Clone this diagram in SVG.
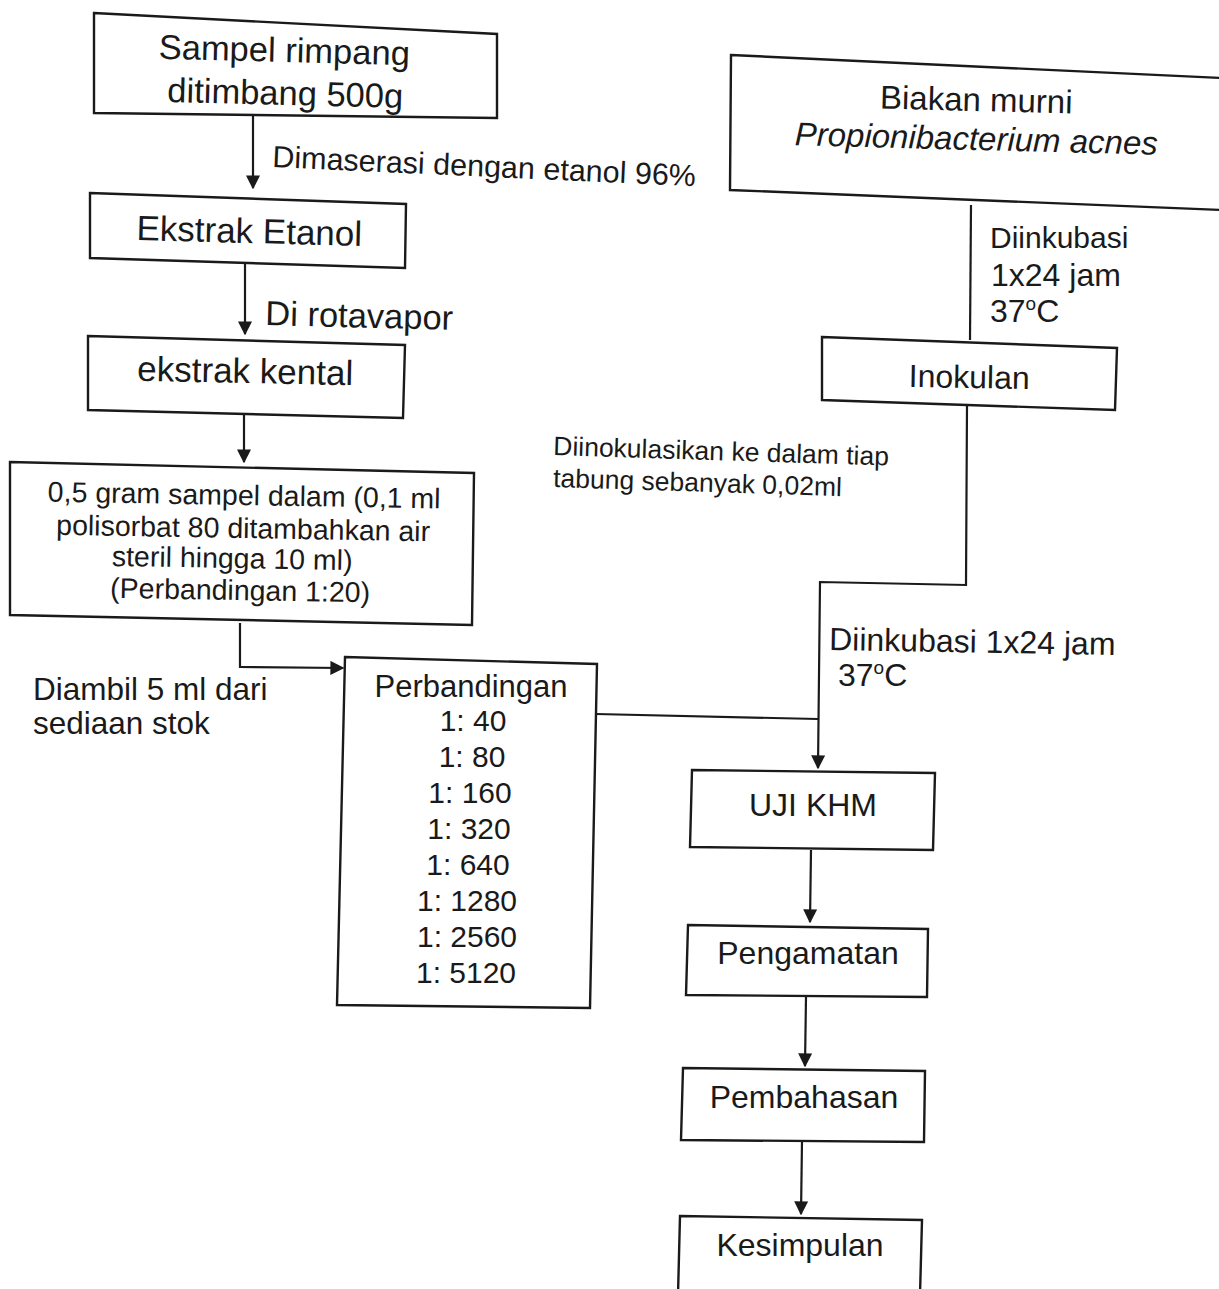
<svg xmlns="http://www.w3.org/2000/svg" width="1219" height="1289" viewBox="0 0 1219 1289">
<defs>
<marker id="ah" viewBox="0 0 10 10" refX="9" refY="5" markerWidth="14" markerHeight="14" markerUnits="userSpaceOnUse" orient="auto">
<path d="M0,0 L10,5 L0,10 z" fill="#1a1a1a"/>
</marker>
<style>
.box{fill:#fff;stroke:#1a1a1a;stroke-width:2.4}
.t{font-family:"Liberation Sans",Arial,sans-serif;fill:#1a1a1a;text-anchor:middle}
.l{font-family:"Liberation Sans",Arial,sans-serif;fill:#1a1a1a}
.c{fill:none;stroke:#1a1a1a;stroke-width:2.2}
</style>
</defs>
<rect width="1219" height="1289" fill="#fff"/>
<g id="connectors">
<line class="c" x1="253" y1="116" x2="253" y2="188" marker-end="url(#ah)"/>
<line class="c" x1="245" y1="264" x2="245" y2="334" marker-end="url(#ah)"/>
<line class="c" x1="244" y1="414" x2="244" y2="462" marker-end="url(#ah)"/>
<polyline class="c" points="240,623 240,667 343,668" marker-end="url(#ah)"/>
<line class="c" x1="971" y1="205" x2="970" y2="340"/>
<polyline class="c" points="967,406 966,585 820,582 818,768" marker-end="url(#ah)"/>
<line class="c" x1="596" y1="714" x2="818" y2="719"/>
<line class="c" x1="811" y1="850" x2="810" y2="922" marker-end="url(#ah)"/>
<line class="c" x1="806" y1="997" x2="805" y2="1066" marker-end="url(#ah)"/>
<line class="c" x1="802" y1="1141" x2="801" y2="1214" marker-end="url(#ah)"/>
<text class="l" font-size="30.5" transform="translate(272,167) rotate(2.6)">Dimaserasi dengan etanol 96%</text>
<text class="l" font-size="34.5" transform="translate(265,325) rotate(1.5)">Di rotavapor</text>
<text class="l" font-size="26.5" transform="translate(553,455) rotate(1.8)">Diinokulasikan ke dalam tiap</text>
<text class="l" font-size="26.5" transform="translate(553,487) rotate(1.8)">tabung sebanyak 0,02ml</text>
<text class="l" font-size="31.5" x="33" y="700">Diambil 5 ml dari</text>
<text class="l" font-size="31.5" x="33" y="734">sediaan stok</text>
<text class="l" font-size="30" x="990" y="248">Diinkubasi</text>
<text class="l" font-size="32" x="991" y="286">1x24 jam</text>
<text class="l" font-size="32" x="990" y="322">37<tspan font-size="19" dy="-12">o</tspan><tspan dy="12">C</tspan></text>
<text class="l" font-size="32" transform="translate(829,650) rotate(1)">Diinkubasi 1x24 jam</text>
<text class="l" font-size="32" x="838" y="686">37<tspan font-size="19" dy="-12">o</tspan><tspan dy="12">C</tspan></text>
</g>
<g id="n1">
<polygon class="box" points="94,13 497,34 497,118 94,113"/>
<text class="t" font-size="34.5" transform="translate(284,62) rotate(1.5)">Sampel rimpang</text>
<text class="t" font-size="34.5" transform="translate(285,105) rotate(1.5)">ditimbang 500g</text>
</g>
<g id="n2">
<polygon class="box" points="90,193 406,204 405,268 90,258"/>
<text class="t" font-size="35" transform="translate(249,243) rotate(1.5)">Ekstrak Etanol</text>
</g>
<g id="n3">
<polygon class="box" points="88,336 405,345 403,418 88,410"/>
<text class="t" font-size="35" transform="translate(245,383) rotate(1.2)">ekstrak kental</text>
</g>
<g id="n4">
<polygon class="box" points="10,462 474,473 472,625 10,615"/>
<text class="t" font-size="28.5" transform="translate(244,505) rotate(1)">0,5 gram sampel dalam (0,1 ml</text>
<text class="t" font-size="28.5" transform="translate(243,538) rotate(1)">polisorbat 80 ditambahkan air</text>
<text class="t" font-size="28.5" transform="translate(232,568) rotate(1)">steril hingga 10 ml)</text>
<text class="t" font-size="28.5" transform="translate(240,600) rotate(1)">(Perbandingan 1:20)</text>
</g>
<g id="n5">
<polygon class="box" points="345,657 597,664 590,1008 337,1005"/>
<text class="t" font-size="31" x="471" y="697">Perbandingan</text>
<text class="t" font-size="30" x="473" y="731">1: 40</text>
<text class="t" font-size="30" x="472" y="767">1: 80</text>
<text class="t" font-size="30" x="470" y="803">1: 160</text>
<text class="t" font-size="30" x="469" y="839">1: 320</text>
<text class="t" font-size="30" x="468" y="875">1: 640</text>
<text class="t" font-size="30" x="467" y="911">1: 1280</text>
<text class="t" font-size="30" x="467" y="947">1: 2560</text>
<text class="t" font-size="30" x="466" y="983">1: 5120</text>
</g>
<g id="n6">
<polygon class="box" points="731,55 1222,78 1222,210 730,190"/>
<text class="t" font-size="33" transform="translate(976,111) rotate(1.5)">Biakan murni</text>
<text class="t" font-size="33" font-style="italic" transform="translate(976,150) rotate(1.5)">Propionibacterium acnes</text>
</g>
<g id="n7">
<polygon class="box" points="822,337 1117,348 1115,410 822,400"/>
<text class="t" font-size="32" transform="translate(969,388) rotate(1)">Inokulan</text>
</g>
<g id="n8">
<polygon class="box" points="692,770 935,773 933,850 690,847"/>
<text class="t" font-size="32" x="813" y="816">UJI KHM</text>
</g>
<g id="n9">
<polygon class="box" points="688,925 928,929 927,997 686,995"/>
<text class="t" font-size="32" x="808" y="964">Pengamatan</text>
</g>
<g id="n10">
<polygon class="box" points="683,1068 925,1071 924,1142 681,1140"/>
<text class="t" font-size="32" x="804" y="1108">Pembahasan</text>
</g>
<g id="n11">
<polygon class="box" points="680,1216 922,1220 920,1295 678,1295"/>
<text class="t" font-size="32" x="800" y="1256">Kesimpulan</text>
</g>
</svg>
